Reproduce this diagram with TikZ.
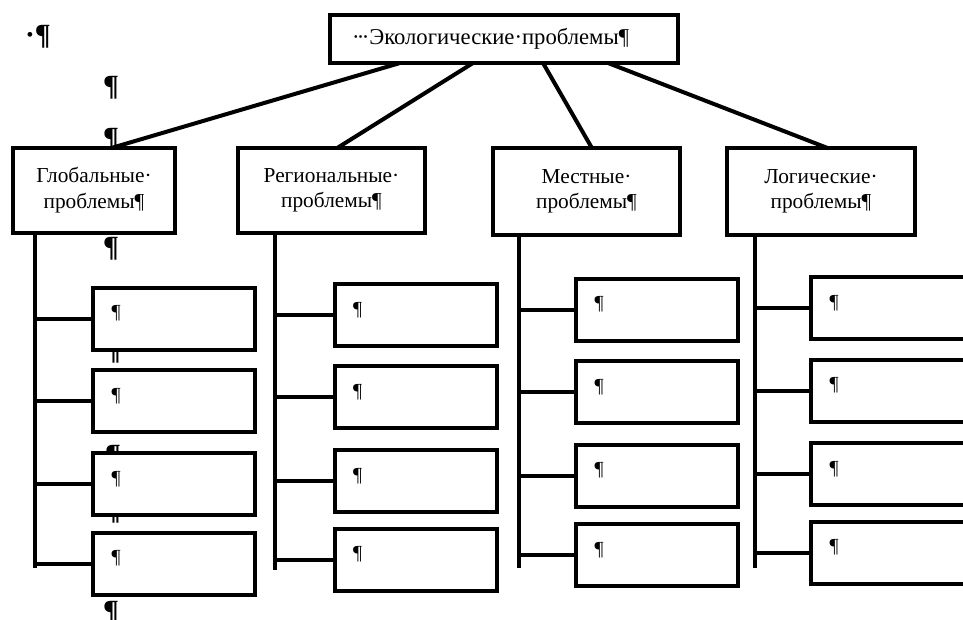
\documentclass[tikz,border=0pt]{standalone}
\usepackage{fontspec}
\setmainfont{Liberation Serif}
\usetikzlibrary{calc}

\begin{document}
\begin{tikzpicture}[x=0.75pt,y=-0.75pt,
	every node/.style={inner sep=0,outer sep=0,font=\fontsize{16}{19}\selectfont},
	box/.style={draw,line width=3pt,fill=white,align=center},
	sub/.style={box,minimum width=121.5pt,minimum height=46.5pt,text width=93.5pt,inner xsep=14pt,align=left,text height=10pt,text depth=10pt,font=\fontsize{15}{17}\selectfont},
	pil/.style={font=\bfseries\fontsize{22}{22}\selectfont},
	ln/.style={line width=3pt}]
	\path[use as bounding box] (0,0) rectangle (963,619);
	\clip (0,0) rectangle (963,619);
	\node[pil] (p0) at (38,37) {·¶};
	\node[pil] (p1) at (111,88) {¶};
	\node[pil] (p2) at (111,140) {¶};
	\node[pil] (p3) at (111,249) {¶};
	\node[pil] (p4) at (113,352) {¶};
	\node[pil] (p5) at (113,457) {¶};
	\node[pil] (p6) at (113,512) {¶};
	\node[pil] (p7) at (111,613) {¶};
	\node[box,minimum width=261pt,minimum height=36pt,text width=228pt,inner xsep=16.5pt,align=left,font=\fontsize{17}{20}\selectfont] (e) at (504,39) {·\kern-2pt·\kern-2pt·Экологические·проблемы¶};
	\node[box,minimum width=121.5pt,minimum height=63.75pt] (g) at (94,190) {Глобальные·\\проблемы¶};
	\node[box,minimum width=140.25pt,minimum height=63.75pt] (r) at (331.5,190) {Региональные·\\проблемы¶};
	\node[box,minimum width=140.25pt,minimum height=65pt] (m) at (586.5,191.5) {Местные·\\проблемы¶};
	\node[box,minimum width=141pt,minimum height=65pt] (l) at (821,191.5) {Логические·\\проблемы¶};
	\node[sub] (g1) at (174,318.5) {¶};
	\node[sub] (g2) at (174,401) {¶};
	\node[sub] (g3) at (174,484) {¶};
	\node[sub] (g4) at (174,563.5) {¶};
	\node[sub] (r1) at (415.5,315) {¶};
	\node[sub] (r2) at (415.5,397) {¶};
	\node[sub] (r3) at (415.5,481) {¶};
	\node[sub] (r4) at (415.5,559.5) {¶};
	\node[sub] (m1) at (657,309.5) {¶};
	\node[sub] (m2) at (657,392) {¶};
	\node[sub] (m3) at (657,475.5) {¶};
	\node[sub] (m4) at (657,555) {¶};
	\node[sub] (l1) at (892,308) {¶};
	\node[sub] (l2) at (892,390.5) {¶};
	\node[sub] (l3) at (892,474) {¶};
	\node[sub] (l4) at (892,552.5) {¶};
	\coordinate (t1) at (35,568);
	\coordinate (t2) at (275,570);
	\coordinate (t3) at (519,568);
	\coordinate (t4) at (755,568);
	\path[ln]
		($(e.south west)+(70,0)$) edge ($(g.north)+(19,0)$)
		($(e.south west)+(143,0)$) edge ($(r.north)+(6.5,0)$)
		($(e.south west)+(213,0)$) edge ($(m.north)+(5.5,0)$)
		($(e.south west)+(278,0)$) edge ($(l.north)+(7,0)$);
	\path[ln]
		(g.south -| t1) edge (t1)
		(g1.west) edge (g1.west -| t1)
		(g2.west) edge (g2.west -| t1)
		(g3.west) edge (g3.west -| t1)
		(g4.west) edge (g4.west -| t1)
		(r.south -| t2) edge (t2)
		(r1.west) edge (r1.west -| t2)
		(r2.west) edge (r2.west -| t2)
		(r3.west) edge (r3.west -| t2)
		(r4.west) edge (r4.west -| t2)
		(m.south -| t3) edge (t3)
		(m1.west) edge (m1.west -| t3)
		(m2.west) edge (m2.west -| t3)
		(m3.west) edge (m3.west -| t3)
		(m4.west) edge (m4.west -| t3)
		(l.south -| t4) edge (t4)
		(l1.west) edge (l1.west -| t4)
		(l2.west) edge (l2.west -| t4)
		(l3.west) edge (l3.west -| t4)
		(l4.west) edge (l4.west -| t4);
\end{tikzpicture}
\end{document}
